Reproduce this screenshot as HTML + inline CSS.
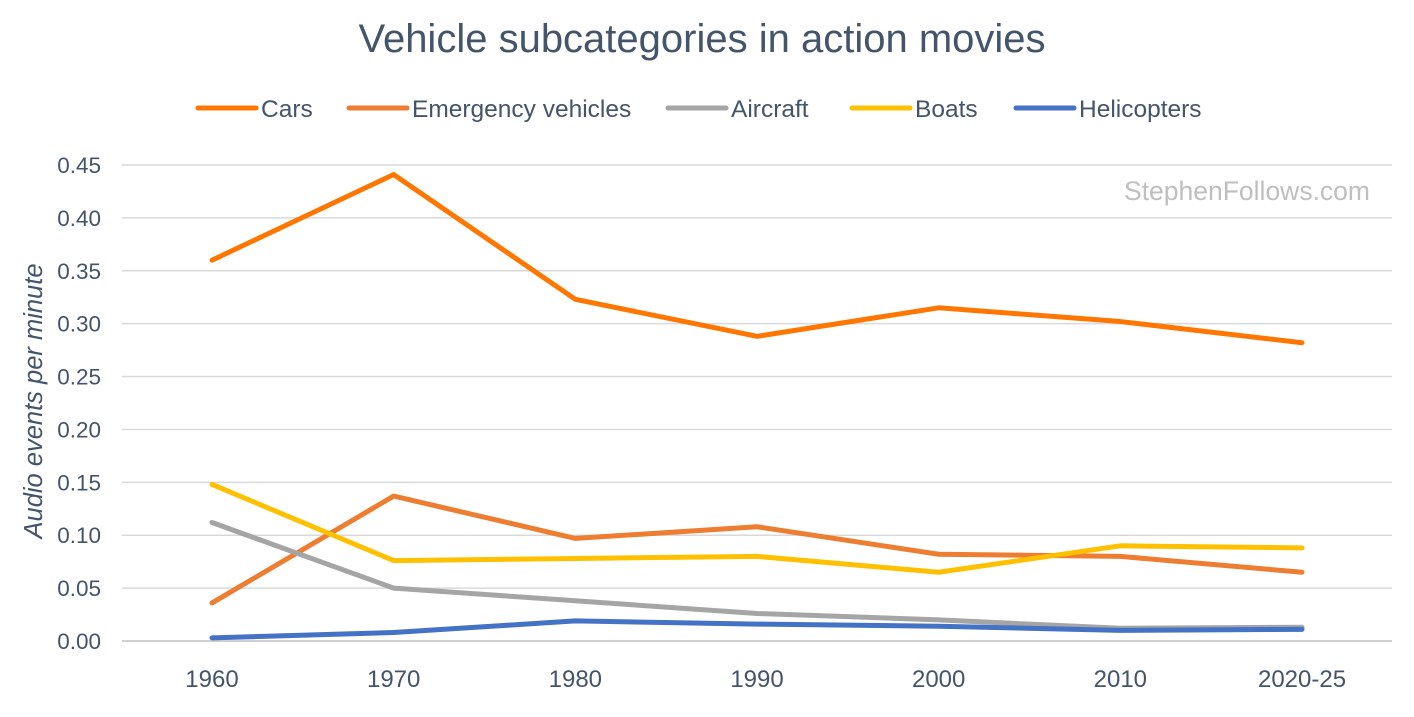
<!DOCTYPE html>
<html><head><meta charset="utf-8"><style>
body{margin:0;background:#fff;font-family:"Liberation Sans",sans-serif;}
svg text{font-family:"Liberation Sans",sans-serif;}
</style></head><body>
<svg id="chart" width="1414" height="712" xmlns="http://www.w3.org/2000/svg">
<text x="702" y="52" text-anchor="middle" font-size="40" fill="#44546A">Vehicle subcategories in action movies</text>
<text x="1370" y="200" text-anchor="end" font-size="26.5" fill="#BFBFBF">StephenFollows.com</text>
<text transform="translate(42,401) rotate(-90)" text-anchor="middle" font-size="25.5" font-style="italic" fill="#44546A">Audio events per minute</text>
<g id="grid"></g><g id="legend"></g><g id="series"></g>
</svg>
<script>
const categories=["1960","1970","1980","1990","2000","2010","2020-25"];
const yTicks=[0,0.05,0.10,0.15,0.20,0.25,0.30,0.35,0.40,0.45];
const seriesNames=["Cars","Emergency vehicles","Aircraft","Boats","Helicopters"];
const cars=[0.360,0.441,0.323,0.288,0.315,0.302,0.282];
const emergency=[0.036,0.137,0.097,0.108,0.082,0.080,0.065];
const aircraft=[0.112,0.050,0.038,0.026,0.020,0.012,0.013];
const boats=[0.148,0.076,0.078,0.080,0.065,0.090,0.088];
const helicopters=[0.003,0.008,0.019,0.016,0.014,0.010,0.011];
const NS="http://www.w3.org/2000/svg";
const colors=["#FF7700","#ED7D31","#A5A5A5","#FFC000","#4472C4"];
const allSeries=[cars,emergency,aircraft,boats,helicopters];
const x=i=>212+i*181.67;
const y=v=>641-v*(476/0.45);
function mk(t,a,p){const e=document.createElementNS(NS,t);for(const k in a)e.setAttribute(k,a[k]);p.appendChild(e);return e;}
const grid=document.getElementById('grid');
yTicks.forEach(v=>{
  const l=mk('line',{x1:122,x2:1392,y1:y(v),y2:y(v),stroke:v===0?'#BFBFBF':'#D9D9D9','stroke-width':1.5},grid);
  
  
  const t=mk('text',{x:101,y:y(v)+8,'text-anchor':'end','font-size':22.5,fill:'#44546A'},grid);
  t.textContent=v.toFixed(2);
  
  
});
categories.forEach((c,i)=>{
  const t=mk('text',{x:x(i),y:687,'text-anchor':'middle','font-size':24,fill:'#44546A'},grid);
  t.textContent=c;
  
  
});
const leg=document.getElementById('legend');
const legX=[198,349,668,852,1016];
seriesNames.forEach((n,i)=>{
  const g=mk('g',{},leg);
  
  
  mk('line',{x1:legX[i],x2:legX[i]+58,y1:108,y2:108,stroke:colors[i],'stroke-width':5,'stroke-linecap':'round'},g);
  const t=mk('text',{x:legX[i]+63,y:117,'font-size':24.5,fill:'#44546A'},g);
  t.textContent=n;
});
const sg=document.getElementById('series');
allSeries.forEach((s,k)=>{
  const p=mk('polyline',{points:s.map((v,i)=>x(i)+','+y(v)).join(' '),fill:'none',stroke:colors[k],'stroke-width':5,'stroke-linejoin':'round','stroke-linecap':'round'},sg);
  
  
});
</script>
</body></html>
